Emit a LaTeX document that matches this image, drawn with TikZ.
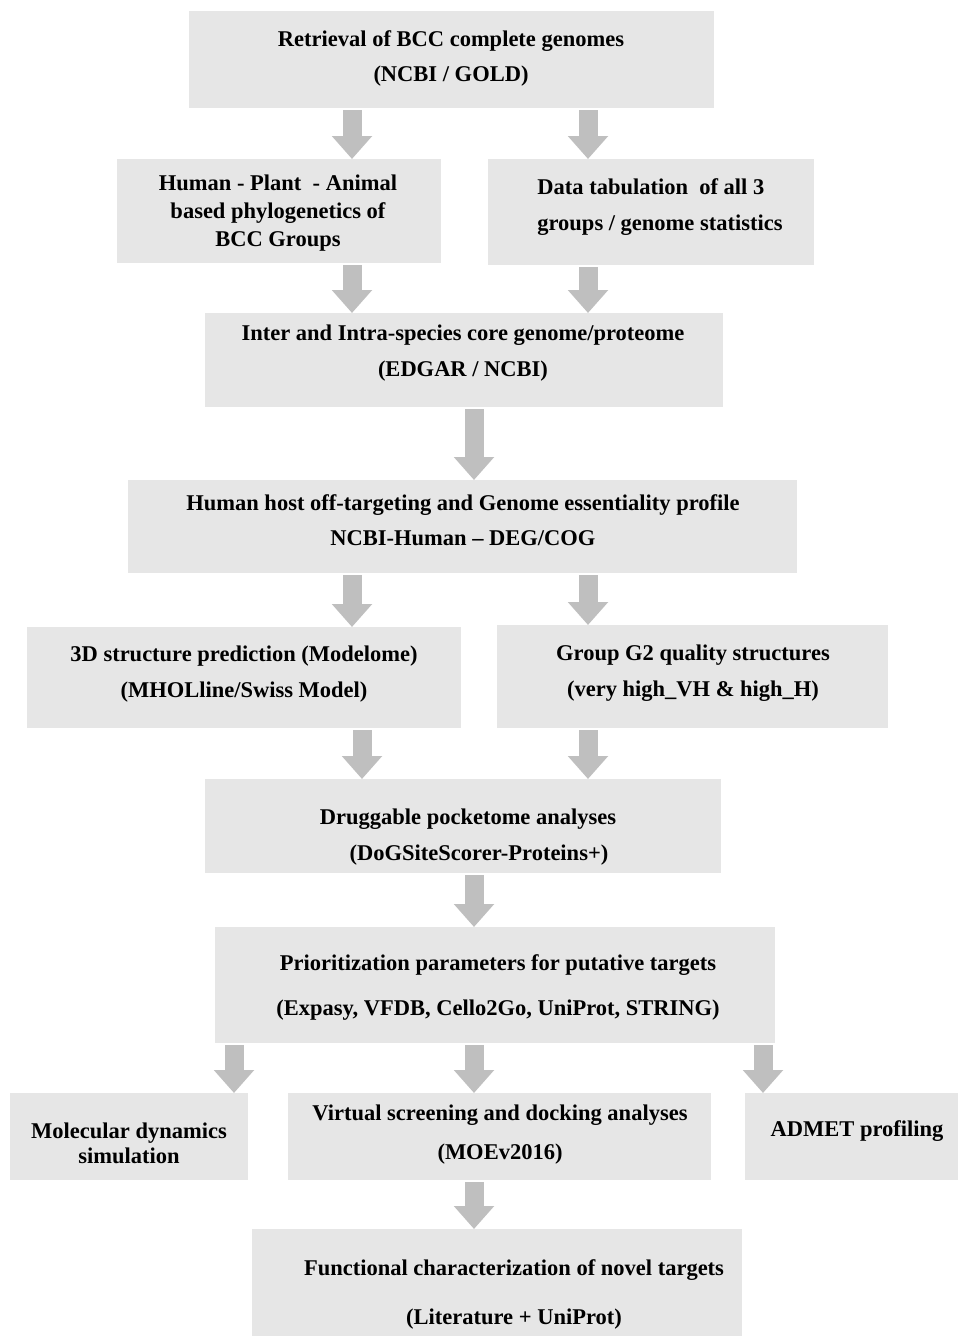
\documentclass[tikz,border=0pt]{standalone}
\usepackage{fontspec}
\setmainfont{Liberation Serif}
\usetikzlibrary{arrows.meta}
\definecolor{boxgray}{HTML}{E6E6E6}
\definecolor{arrowgray}{HTML}{BFBFBF}
\tikzset{
  box/.style={fill=boxgray, draw=none, inner sep=0pt, outer sep=0pt},
  txt/.style={font=\fontsize{22.5}{#1}\selectfont\bfseries, align=center, inner sep=0pt, text=black, yshift=-2pt},
  barrow/.style={draw=arrowgray, line width=19pt, -{Triangle[width=39pt,length=23pt]}, shorten <=2pt}
}
\begin{document}
\begin{tikzpicture}[x=1pt,y=-1pt]
\useasboundingbox[fill=white] (0,0) rectangle (958,1336);
% boxes
\node[box, minimum width=525pt, minimum height=97pt]  (b1)  at (451.5,59.5) {};
\node[box, minimum width=324pt, minimum height=104pt] (b2)  at (279,211) {};
\node[box, minimum width=326pt, minimum height=106pt] (b3)  at (651,212) {};
\node[box, minimum width=518pt, minimum height=94pt]  (b4)  at (464,360) {};
\node[box, minimum width=669pt, minimum height=93pt]  (b5)  at (462.5,526.5) {};
\node[box, minimum width=434pt, minimum height=101pt] (b6)  at (244,677.5) {};
\node[box, minimum width=391pt, minimum height=103pt] (b7)  at (692.5,676.5) {};
\node[box, minimum width=516pt, minimum height=94pt]  (b8)  at (463,826) {};
\node[box, minimum width=560pt, minimum height=116pt] (b9)  at (495,985) {};
\node[box, minimum width=238pt, minimum height=87pt]  (b10) at (129,1136.5) {};
\node[box, minimum width=423pt, minimum height=87pt]  (b11) at (499.5,1136.5) {};
\node[box, minimum width=213pt, minimum height=87pt]  (b12) at (851.5,1136.5) {};
\node[box, minimum width=490pt, minimum height=107pt] (b13) at (497,1282.5) {};
% texts
\node[txt=35] (t1) at (451,56) {Retrieval of BCC complete genomes\\(NCBI / GOLD)};
\node[txt=28] (t2) at (278,211) {Human - Plant\ \ - Animal\\based phylogenetics of\\BCC Groups};
\node[txt=36, align=left] (t3) at (660,205) {Data tabulation\ \ of all 3\\groups / genome statistics};
\node[txt=36] (t4) at (463,351) {Inter and Intra-species core genome/proteome\\(EDGAR / NCBI)};
\node[txt=35] (t5) at (463,518) {Human host off-targeting and Genome essentiality profile\\NCBI-Human -- DEG/COG};
\node[txt=36] (t6) at (244,672) {3D structure prediction (Modelome)\\(MHOLline/Swiss Model)};
\node[txt=36] (t7) at (693,671) {Group G2 quality structures\\(very high\_VH \& high\_H)};
\node[txt=36] (t8) at (468,835) {Druggable pocketome analyses\\\hspace*{22pt}(DoGSiteScorer-Proteins+)};
\node[txt=45] (t9) at (498,985.5) {Prioritization parameters for putative targets\\(Expasy, VFDB, Cello2Go, UniProt, STRING)};
\node[txt=25] (t10) at (129,1141.5) {Molecular dynamics\\simulation};
\node[txt=39] (t11) at (500,1132.5) {Virtual screening and docking analyses\\(MOEv2016)};
\node[txt=25] (t12) at (857,1129) {ADMET profiling};
\node[txt=49] (t13) at (514,1292.5) {Functional characterization of novel targets\\(Literature + UniProt)};
% arrow columns
\coordinate (xA) at (352,0);
\coordinate (xB) at (588,0);
\coordinate (xC) at (474,0);
\coordinate (xD) at (362,0);
\coordinate (xE) at (234,0);
\coordinate (xF) at (763,0);
% arrows
\draw[barrow] (b1.south -| xA) -- (b2.north -| xA);
\draw[barrow] (b1.south -| xB) -- (b3.north -| xB);
\draw[barrow] (b2.south -| xA) -- (b4.north -| xA);
\draw[barrow] (b3.south -| xB) -- (b4.north -| xB);
\draw[barrow] (b4.south -| xC) -- (b5.north -| xC);
\draw[barrow] (b5.south -| xA) -- (b6.north -| xA);
\draw[barrow] (b5.south -| xB) -- (b7.north -| xB);
\draw[barrow] (b6.south -| xD) -- (b8.north -| xD);
\draw[barrow] (b7.south -| xB) -- (b8.north -| xB);
\draw[barrow] (b8.south -| xC) -- (b9.north -| xC);
\draw[barrow] (b9.south -| xE) -- (b10.north -| xE);
\draw[barrow] (b9.south -| xC) -- (b11.north -| xC);
\draw[barrow] (b9.south -| xF) -- (b12.north -| xF);
\draw[barrow] (b11.south -| xC) -- (b13.north -| xC);
\end{tikzpicture}
\end{document}
